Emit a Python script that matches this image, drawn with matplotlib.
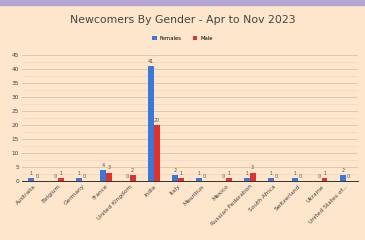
import numpy as np
import matplotlib.pyplot as plt
from matplotlib.ticker import MultipleLocator

countries = ['Australia', 'Belgium', 'Germany', 'France', 'United Kingdom', 'India',
             'Italy', 'Mauritius', 'Mexico', 'Russian Federation', 'South Africa',
             'Switzerland', 'Ukraine', 'United States of...']
female = [1, 0, 1, 4, 0, 41, 2, 1, 0, 1, 1, 1, 0, 2]
male = [0, 1, 0, 3, 2, 20, 1, 0, 1, 3, 0, 0, 1, 0]

bg = '#fde6cc'
blue = '#3c78d8'
red = '#e0312e'

fig = plt.figure(figsize=(3.65, 2.4), dpi=100, facecolor=bg)
# purple band on top
fig.add_artist(plt.Rectangle((0, 0.981), 1, 0.019, transform=fig.transFigure,
                             color='#b4a7d6', zorder=0))

ax = fig.add_axes([0.06, 0.246, 0.92, 0.525])
ax.set_facecolor(bg)

x = np.arange(len(countries))
w = 0.24
b1 = ax.bar(x - w / 2, female, w, color=blue, label='Females', zorder=3)
b2 = ax.bar(x + w / 2, male, w, color=red, label='Male', zorder=3)
for bars, vals in ((b1, female), (b2, male)):
    for r, v in zip(bars, vals):
        ax.text(r.get_x() + r.get_width() / 2, v + 0.8, str(v), ha='center',
                va='bottom', fontsize=3.6, color='#555555')

ax.set_xlim(-0.5, len(countries) - 0.5)
ax.set_ylim(0, 45)
ax.yaxis.set_major_locator(MultipleLocator(5))
ax.yaxis.set_minor_locator(MultipleLocator(2.5))
ax.grid(axis='y', which='major', color='#dcc8b0', linewidth=0.7, zorder=0)
ax.grid(axis='y', which='minor', color='#efd9c0', linewidth=0.5, zorder=0)
for s in ['top', 'right', 'left']:
    ax.spines[s].set_visible(False)
ax.spines['bottom'].set_color('#333333')
ax.spines['bottom'].set_linewidth(0.7)
ax.tick_params(axis='both', which='both', length=0, labelsize=4.2,
               labelcolor='#444444', pad=2)
ax.set_xticks(x)
ax.set_xticklabels(countries, rotation=45, ha='right', rotation_mode='anchor')

fig.text(0.5, 0.915, 'Newcomers By Gender - Apr to Nov 2023', ha='center',
         va='center', fontsize=7.8, color='#444444')
fig.legend(loc='center', bbox_to_anchor=(0.5, 0.84), ncol=2, frameon=False,
           fontsize=3.8, handlelength=0.9, handleheight=0.9, columnspacing=2,
           handletextpad=0.6)

fig.savefig('out.png', dpi=100, facecolor=bg)
